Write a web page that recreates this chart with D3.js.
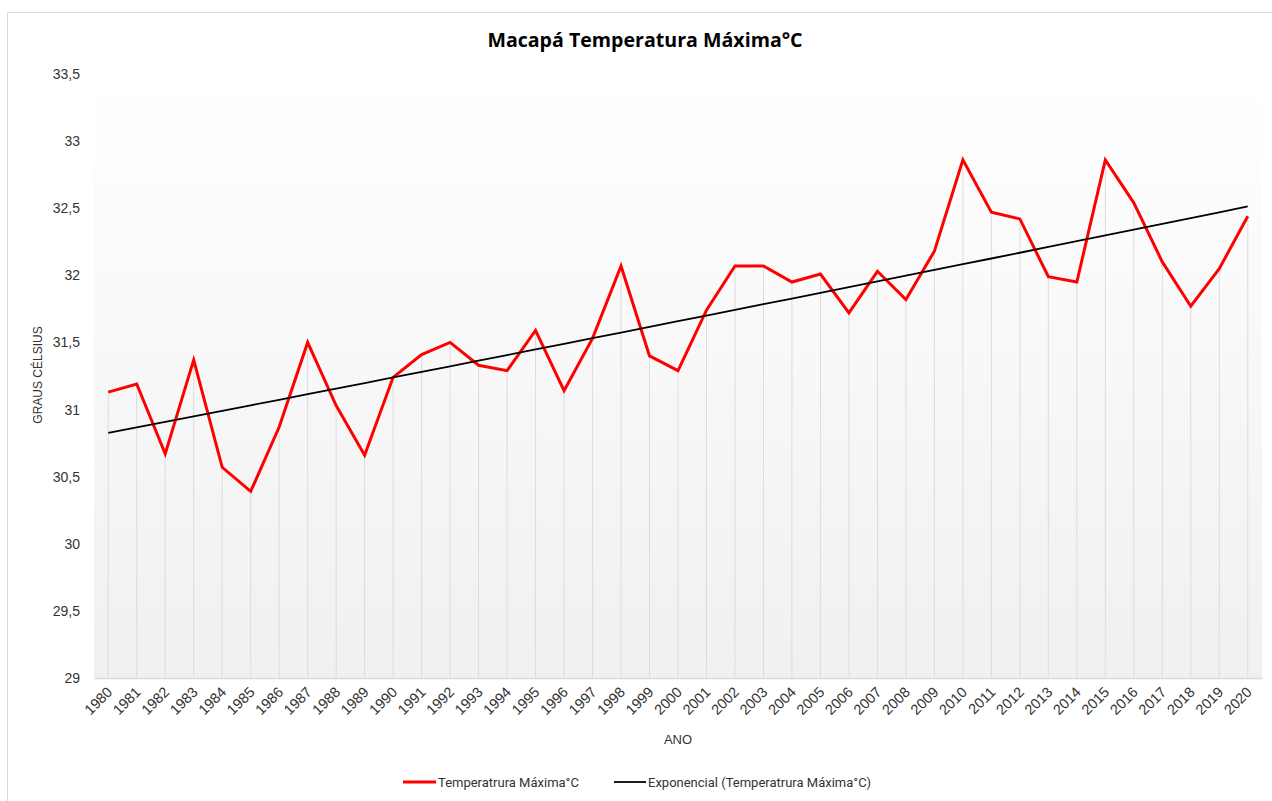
<!DOCTYPE html>
<html><head><meta charset="utf-8">
<script src="https://cdn.jsdelivr.net/npm/d3@7"></script>
<style>body{margin:0;background:#fff;}svg{display:block;}</style>
</head><body>
<svg id="chart" width="1272" height="801"></svg>
<script>
const years = ["1980","1981","1982","1983","1984","1985","1986","1987","1988","1989","1990","1991","1992","1993","1994","1995","1996","1997","1998","1999","2000","2001","2002","2003","2004","2005","2006","2007","2008","2009","2010","2011","2012","2013","2014","2015","2016","2017","2018","2019","2020"];
const tmax = [31.13,31.19,30.67,31.37,30.57,30.39,30.87,31.50,31.03,30.66,31.24,31.41,31.50,31.33,31.29,31.59,31.14,31.53,32.07,31.40,31.29,31.74,32.07,32.07,31.95,32.01,31.72,32.03,31.82,32.18,32.86,32.47,32.42,31.99,31.95,32.86,32.54,32.10,31.77,32.05,32.44];
const yTicks = [29,29.5,30,30.5,31,31.5,32,32.5,33,33.5];
const titleText = "Macapá Temperatura Máxima°C";
const seriesName = "Temperatrura Máxima°C";
const trendName = "Exponencial (Temperatrura Máxima°C)";

(function(){
// Exponential trendline (least squares on ln y, as Excel does)
const xs = tmax.map((d,i)=>i+1), ls = tmax.map(v=>Math.log(v));
const mx = d3.mean(xs), ml = d3.mean(ls);
const b = d3.sum(xs.map((x,i)=>(x-mx)*(ls[i]-ml))) / d3.sum(xs.map(x=>(x-mx)*(x-mx)));
const a = Math.exp(ml - b*mx);
const trend = xs.map(x=>a*Math.exp(b*x));

const svg = d3.select("#chart");
const pL=94, pR=1262, pT=74, pB=678;

svg.append("rect").attr("x",7.5).attr("y",12.5).attr("width",1280).attr("height",800)
  .attr("fill","#fff").attr("stroke","#d9d9d9").attr("stroke-width",1);

const defs = svg.append("defs");
const grad = defs.append("linearGradient").attr("id","bg").attr("x1",0).attr("y1",0).attr("x2",0).attr("y2",1);
grad.append("stop").attr("offset","0%").attr("stop-color","#ffffff");
grad.append("stop").attr("offset","100%").attr("stop-color","#f0f0f0");

const x = d3.scaleBand().domain(years).range([pL,pR]);
const y = d3.scaleLinear().domain([29,33.5]).range([pB,pT]);
const cx = d => x(d)+x.bandwidth()/2;

svg.append("rect").attr("x",pL).attr("y",pT).attr("width",pR-pL).attr("height",pB-pT).attr("fill","url(#bg)");

// drop lines
svg.append("g").selectAll("line").data(years).join("line")
  .attr("x1",d=>cx(d)).attr("x2",d=>cx(d))
  .attr("y1",(d,i)=>y(tmax[i])).attr("y2",pB)
  .attr("stroke","#dcdcdc").attr("stroke-width",1);

// x axis
const xAxis = svg.append("g").attr("transform",`translate(0,${pB})`)
  .call(d3.axisBottom(x).tickSize(0).tickPadding(0));
xAxis.select(".domain").attr("stroke","#d9d9d9").attr("stroke-width",1.5);
xAxis.selectAll("text").attr("font-family","Liberation Sans, Arial, sans-serif").attr("font-size",14.5).attr("fill","#333")
  .attr("text-anchor","end").attr("dy",0).attr("y",0)
  .attr("transform","translate(5,15) rotate(-45)");

// y axis
const yAxis = svg.append("g").attr("transform",`translate(${pL},0)`)
  .call(d3.axisLeft(y).tickValues(yTicks).tickSize(0).tickPadding(14)
    .tickFormat(d=>String(d).replace(".",",")));
yAxis.select(".domain").remove();
yAxis.selectAll("text").attr("font-family","Liberation Sans, Arial, sans-serif").attr("font-size",14).attr("fill","#333");

// series line
svg.append("path").datum(tmax)
  .attr("d",d3.line().x((d,i)=>cx(years[i])).y(d=>y(d)))
  .attr("fill","none").attr("stroke","#ff0000").attr("stroke-width",3).attr("stroke-linejoin","miter");

// trend line
svg.append("path").datum(trend)
  .attr("d",d3.line().x((d,i)=>cx(years[i])).y(d=>y(d)))
  .attr("fill","none").attr("stroke","#000").attr("stroke-width",1.8);

// title
svg.append("text").attr("x",645).attr("y",47).attr("text-anchor","middle")
  .attr("font-family","Open Sans, Noto Sans, sans-serif").attr("font-weight","bold").attr("font-size",19.6).attr("fill","#000")
  .text(titleText);

// axis titles
svg.append("text").attr("transform","translate(42,375) rotate(-90)").attr("text-anchor","middle")
  .attr("font-family","Liberation Sans, Arial, sans-serif").attr("font-size",12).attr("fill","#333").text("GRAUS CÉLSIUS");
svg.append("text").attr("x",678).attr("y",744).attr("text-anchor","middle")
  .attr("font-family","Liberation Sans Narrow, Liberation Sans, Arial, sans-serif").attr("font-size",13).attr("fill","#333").text("ANO");

// legend
const lg = svg.append("g").attr("font-family","Roboto, Noto Sans, sans-serif").attr("font-size",13).attr("fill","#333");
lg.append("line").attr("x1",403).attr("x2",436).attr("y1",782).attr("y2",782).attr("stroke","#ff0000").attr("stroke-width",3);
lg.append("text").attr("x",438).attr("y",786.5).text(seriesName);
lg.append("line").attr("x1",614).attr("x2",646).attr("y1",782).attr("y2",782).attr("stroke","#000").attr("stroke-width",1.8);
lg.append("text").attr("x",648).attr("y",786.5).text(trendName);
})();
</script>
</body></html>
